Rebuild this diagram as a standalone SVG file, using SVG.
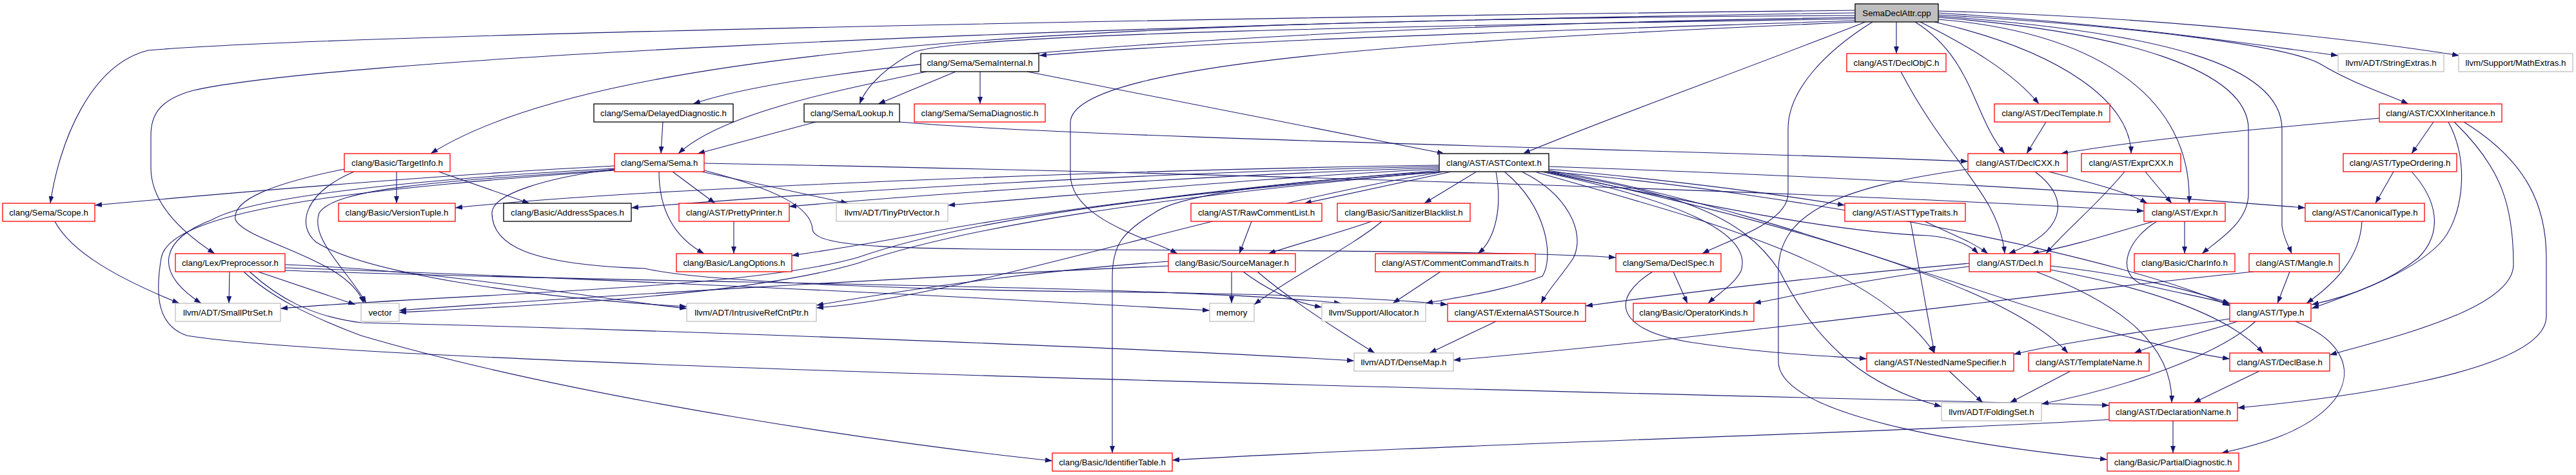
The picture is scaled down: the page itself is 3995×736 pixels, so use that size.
<svg xmlns="http://www.w3.org/2000/svg" width="3995" height="736" viewBox="0 0 3995 736">
<style>
.n rect{fill:#fff;stroke-width:1.3}
.red rect{stroke:#ff0000}
.blk rect{stroke:#000}
.gry rect{stroke:#bfbfbf}
.root rect{fill:#bfbfbf;stroke:#000}
.ctx rect{stroke:#404040;stroke-width:1.8}
text{font-family:"Liberation Sans",Arial,sans-serif;font-size:13.3px;text-anchor:middle;fill:#000}
#edges path{fill:none;stroke:#191970;stroke-width:1.1;marker-end:url(#arr)}
</style>
<defs>
<marker id="arr" markerWidth="11" markerHeight="8" refX="11" refY="4" orient="auto" markerUnits="userSpaceOnUse"><path d="M0,0 L11,4 L0,8 z" fill="#191970"/></marker>
</defs>
<rect width="3995" height="736" fill="#fff"/>
<g id="edges">
<path d="M2877,16 C1800,28 500,55 230,78 C140,100 92,220 78,315"/>
<path d="M2877,20 C1500,40 500,95 300,140 C245,155 234,180 234,210 L234,260 C234,320 290,365 333,393"/>
<path d="M2877,24 C1800,30 950,60 668,238"/>
<path d="M2877,27 C1900,42 1250,100 1075,161"/>
<path d="M2877,29 C2200,40 1500,52 1420,80 C1380,100 1345,130 1333,161"/>
<path d="M2877,32 C2400,48 1900,62 1612,86"/>
<path d="M2893,34 C2700,110 2500,180 2362,238"/>
<path d="M2880,34 C2300,60 1660,90 1660,190 L1660,270 C1660,340 1780,368 1826,393"/>
<path d="M2904,34 C2830,80 2773,140 2773,200 L2773,300 C2773,345 2680,372 2640,393"/>
<path d="M2941,34 L2941,83"/>
<path d="M2970,34 C3060,90 3060,180 3109,238"/>
<path d="M2978,34 C3050,70 3120,110 3162,161"/>
<path d="M3000,34 C3200,80 3305,160 3305,238"/>
<path d="M3006,30 C3250,50 3400,150 3395,315"/>
<path d="M3006,27 C3300,50 3487,110 3487,200 L3487,300 C3487,345 3440,372 3415,393"/>
<path d="M3006,25 C3350,50 3539,100 3539,200 L3539,350 C3542,372 3550,382 3554,393"/>
<path d="M3006,23 C3300,40 3550,70 3600,100 C3650,130 3700,145 3735,161"/>
<path d="M3006,20 C3300,38 3500,70 3626,86"/>
<path d="M3006,17 C3400,28 3700,68 3814,86"/>
<path d="M1482,111 L1362,161"/>
<path d="M1437,111 C1300,140 1120,175 1052,238"/>
<path d="M1520,111 L1520,161"/>
<path d="M1593,111 L2240,238"/>
<path d="M1028,189 L1025,238"/>
<path d="M1265,189 L1082,238"/>
<path d="M1395,189 C1700,215 2600,232 3052,250"/>
<path d="M2948,111 C3020,250 3100,300 3109,393"/>
<path d="M3173,189 L3143,238"/>
<path d="M3690,183 C3500,200 3330,215 3196,238"/>
<path d="M3774,189 L3740,238"/>
<path d="M3797,189 C3830,250 3820,330 3790,370 C3750,420 3650,455 3585,478"/>
<path d="M3806,189 C3880,260 3898,320 3898,410 C3898,480 3700,525 3613,550"/>
<path d="M3821,189 C3920,250 3949,320 3949,400 L3949,490 C3949,580 3600,620 3470,632"/>
<path d="M3327,266 L3368,315"/>
<path d="M3295,266 C3250,320 3200,360 3173,393"/>
<path d="M3177,266 C3250,285 3300,298 3330,315"/>
<path d="M3156,266 C3215,310 3200,360 3115,393"/>
<path d="M3052,262 C2850,290 2758,330 2758,420 L2758,560 C2758,650 3100,695 3268,712"/>
<path d="M615,266 L615,315"/>
<path d="M680,266 L821,315"/>
<path d="M534,262 C420,285 360,310 365,340 C380,375 540,400 564,470"/>
<path d="M549,266 C470,300 460,350 490,375 C560,420 800,460 1065,475"/>
<path d="M953,257 C700,270 400,295 147,318"/>
<path d="M1043,266 L1109,315"/>
<path d="M1022,266 C1022,330 1050,370 1092,393"/>
<path d="M1088,266 L1315,315"/>
<path d="M1092,253 C1600,262 2700,290 3325,327"/>
<path d="M953,264 C600,290 262,320 250,400 C240,460 245,505 290,520 C600,570 2700,612 3271,628"/>
<path d="M953,261 C700,275 400,300 330,340 C250,370 235,420 312,470"/>
<path d="M953,263 C700,280 520,290 495,330 C480,370 540,420 568,470"/>
<path d="M356,421 L355,470"/>
<path d="M400,421 L551,472"/>
<path d="M378,421 C420,460 480,490 560,520 C900,620 1400,690 1632,714"/>
<path d="M387,421 C430,460 480,490 560,500 C1000,510 1800,540 2100,559"/>
<path d="M442,410 C700,420 900,460 1065,478"/>
<path d="M442,415 C900,430 1500,460 1876,481"/>
<path d="M442,419 C1000,440 1800,440 2080,470"/>
<path d="M85,343 C110,390 180,430 278,470"/>
<path d="M1138,343 L1138,393"/>
<path d="M1910,421 L1910,470"/>
<path d="M1812,405 C1600,420 1400,450 1266,473"/>
<path d="M1812,412 C1400,430 900,460 619,481"/>
<path d="M1928,421 C1960,445 2000,468 2050,476"/>
<path d="M1950,421 C1990,455 2040,490 2132,547"/>
<path d="M1941,343 L1922,393"/>
<path d="M2127,343 C2080,360 2020,375 1967,393"/>
<path d="M2143,343 C2100,380 2000,430 1945,472"/>
<path d="M2234,421 L2160,470"/>
<path d="M2595,421 L2617,470"/>
<path d="M2563,421 C2500,460 2500,510 2620,530 C2750,550 2850,552 2895,556"/>
<path d="M3054,413 C2900,430 2800,455 2720,470"/>
<path d="M3054,408 C2800,430 2600,455 2459,474"/>
<path d="M3158,421 C3260,460 3370,520 3368,624"/>
<path d="M3180,418 C3300,440 3450,480 3510,547"/>
<path d="M3180,412 C3300,425 3400,450 3458,470"/>
<path d="M3388,343 L3388,393"/>
<path d="M3340,343 C3280,360 3220,380 3151,393"/>
<path d="M3345,343 C3300,370 3280,420 3320,440 C3380,455 3430,462 3458,472"/>
<path d="M3551,421 L3532,470"/>
<path d="M3495,421 C3200,450 2700,520 2254,558"/>
<path d="M3663,343 C3660,400 3620,440 3577,470"/>
<path d="M3712,266 L3684,315"/>
<path d="M3740,266 C3780,310 3790,360 3750,400 C3700,440 3640,460 3585,472"/>
<path d="M2985,343 C3020,360 3060,375 3083,393"/>
<path d="M2963,343 L3000,547"/>
<path d="M2320,498 L2217,547"/>
<path d="M3023,575 L3075,624"/>
<path d="M3211,575 L3117,624"/>
<path d="M3504,575 L3402,624"/>
<path d="M3370,652 L3370,702"/>
<path d="M3271,650 C3000,668 2200,690 1818,713"/>
<path d="M3560,498 C3640,530 3650,580 3620,620 C3580,670 3500,690 3445,702"/>
<path d="M3498,498 C3440,550 3300,600 3166,626"/>
<path d="M3458,494 C3350,510 3200,530 3123,549"/>
<path d="M3470,498 C3420,515 3350,530 3310,547"/>
<path d="M2232,256 C1800,262 1000,290 706,322"/>
<path d="M2232,258 C1800,266 1300,296 979,322"/>
<path d="M2232,260 C1900,270 1500,296 1224,320"/>
<path d="M2232,262 C2000,272 1700,300 1470,318"/>
<path d="M2232,264 C1900,290 1600,330 1440,360 C1350,378 1280,388 1228,396"/>
<path d="M2240,266 C1800,300 1500,340 1330,399 C1150,450 700,455 435,478"/>
<path d="M2232,266 C1800,305 1500,350 1330,408 C1150,460 800,475 619,484"/>
<path d="M2240,266 C1900,320 1500,460 1266,477"/>
<path d="M2232,266 C2000,280 1830,300 1790,330 C1740,360 1725,380 1725,430 L1725,702"/>
<path d="M2251,266 L2023,315"/>
<path d="M2290,266 L2209,315"/>
<path d="M2320,266 C2330,320 2320,370 2292,393"/>
<path d="M2333,266 C2400,320 2410,400 2392,428 C2330,452 2250,462 2211,470"/>
<path d="M2360,266 C2430,300 2460,360 2440,400 C2420,430 2400,450 2390,470"/>
<path d="M2402,266 C2800,300 3300,400 3458,474"/>
<path d="M2395,266 C2650,320 2850,360 2990,365 C3030,368 3055,380 3068,393"/>
<path d="M2402,262 C2600,280 2750,300 2861,318"/>
<path d="M2402,258 C2900,275 3300,300 3575,322"/>
<path d="M2380,266 C2600,330 2900,400 3000,547"/>
<path d="M2400,266 C2700,330 3100,430 3207,547"/>
<path d="M2402,264 C2800,330 3200,520 3458,556"/>
<path d="M2402,266 C2600,300 2700,330 2760,420 C2820,540 2900,600 3011,630"/>
<path d="M2390,266 C2600,310 2720,360 2700,420 C2690,440 2665,455 2649,470"/>
<path d="M953,262 C850,275 763,300 763,330 C763,380 820,410 1000,416 C1100,440 1500,450 1700,452 C1950,455 2150,462 2245,472"/>
<path d="M1092,264 C1200,292 1258,320 1260,355 C1262,385 1400,386 1700,387 C2100,388 2400,392 2506,399"/>
</g>
<g id="n_SemaDeclAttr" class="n root"><rect x="2877" y="6" width="129" height="28"/><text x="2941.5" y="25">SemaDeclAttr.cpp</text></g>
<g id="n_SemaInternal" class="n blk"><rect x="1428" y="83" width="183" height="28"/><text x="1519.5" y="102">clang/Sema/SemaInternal.h</text></g>
<g id="n_DeclObjC" class="n red"><rect x="2864" y="83" width="154" height="28"/><text x="2941" y="102">clang/AST/DeclObjC.h</text></g>
<g id="n_StringExtras" class="n gry"><rect x="3626" y="83" width="164" height="28"/><text x="3708" y="102">llvm/ADT/StringExtras.h</text></g>
<g id="n_MathExtras" class="n gry"><rect x="3813" y="83" width="177" height="28"/><text x="3901.5" y="102">llvm/Support/MathExtras.h</text></g>
<g id="n_DelayedDiagnostic" class="n blk"><rect x="921" y="161" width="216" height="28"/><text x="1029" y="180">clang/Sema/DelayedDiagnostic.h</text></g>
<g id="n_Lookup" class="n blk"><rect x="1247" y="161" width="148" height="28"/><text x="1321" y="180">clang/Sema/Lookup.h</text></g>
<g id="n_SemaDiagnostic" class="n red"><rect x="1418" y="161" width="203" height="28"/><text x="1519.5" y="180">clang/Sema/SemaDiagnostic.h</text></g>
<g id="n_DeclTemplate" class="n red"><rect x="3093" y="161" width="179" height="28"/><text x="3182.5" y="180">clang/AST/DeclTemplate.h</text></g>
<g id="n_CXXInheritance" class="n red"><rect x="3690" y="161" width="190" height="28"/><text x="3785" y="180">clang/AST/CXXInheritance.h</text></g>
<g id="n_TargetInfo" class="n red"><rect x="534" y="238" width="164" height="28"/><text x="616" y="257">clang/Basic/TargetInfo.h</text></g>
<g id="n_Sema" class="n red"><rect x="953" y="238" width="139" height="28"/><text x="1022.5" y="257">clang/Sema/Sema.h</text></g>
<g id="n_ASTContext" class="n ctx"><rect x="2232" y="238" width="170" height="28"/><text x="2317" y="257">clang/AST/ASTContext.h</text></g>
<g id="n_DeclCXX" class="n red"><rect x="3052" y="238" width="154" height="28"/><text x="3129" y="257">clang/AST/DeclCXX.h</text></g>
<g id="n_ExprCXX" class="n red"><rect x="3228" y="238" width="154" height="28"/><text x="3305" y="257">clang/AST/ExprCXX.h</text></g>
<g id="n_TypeOrdering" class="n red"><rect x="3634" y="238" width="176" height="28"/><text x="3722" y="257">clang/AST/TypeOrdering.h</text></g>
<g id="n_Scope" class="n red"><rect x="4" y="315" width="143" height="28"/><text x="75.5" y="334">clang/Sema/Scope.h</text></g>
<g id="n_VersionTuple" class="n red"><rect x="525" y="315" width="181" height="28"/><text x="615.5" y="334">clang/Basic/VersionTuple.h</text></g>
<g id="n_AddressSpaces" class="n blk"><rect x="781" y="315" width="198" height="28"/><text x="880" y="334">clang/Basic/AddressSpaces.h</text></g>
<g id="n_PrettyPrinter" class="n red"><rect x="1053" y="315" width="171" height="28"/><text x="1138.5" y="334">clang/AST/PrettyPrinter.h</text></g>
<g id="n_TinyPtrVector" class="n gry"><rect x="1297" y="315" width="173" height="28"/><text x="1383.5" y="334">llvm/ADT/TinyPtrVector.h</text></g>
<g id="n_RawCommentList" class="n red"><rect x="1847" y="315" width="203" height="28"/><text x="1948.5" y="334">clang/AST/RawCommentList.h</text></g>
<g id="n_SanitizerBlacklist" class="n red"><rect x="2074" y="315" width="206" height="28"/><text x="2177" y="334">clang/Basic/SanitizerBlacklist.h</text></g>
<g id="n_ASTTypeTraits" class="n red"><rect x="2861" y="315" width="187" height="28"/><text x="2954.5" y="334">clang/AST/ASTTypeTraits.h</text></g>
<g id="n_Expr" class="n red"><rect x="3325" y="315" width="126" height="28"/><text x="3388" y="334">clang/AST/Expr.h</text></g>
<g id="n_CanonicalType" class="n red"><rect x="3575" y="315" width="185" height="28"/><text x="3667.5" y="334">clang/AST/CanonicalType.h</text></g>
<g id="n_Preprocessor" class="n red"><rect x="272" y="393" width="170" height="28"/><text x="357" y="412">clang/Lex/Preprocessor.h</text></g>
<g id="n_LangOptions" class="n red"><rect x="1049" y="393" width="179" height="28"/><text x="1138.5" y="412">clang/Basic/LangOptions.h</text></g>
<g id="n_SourceManager" class="n red"><rect x="1812" y="393" width="197" height="28"/><text x="1910.5" y="412">clang/Basic/SourceManager.h</text></g>
<g id="n_CommentCommandTraits" class="n red"><rect x="2133" y="393" width="248" height="28"/><text x="2257" y="412">clang/AST/CommentCommandTraits.h</text></g>
<g id="n_DeclSpec" class="n red"><rect x="2506" y="393" width="163" height="28"/><text x="2587.5" y="412">clang/Sema/DeclSpec.h</text></g>
<g id="n_Decl" class="n red"><rect x="3054" y="393" width="126" height="28"/><text x="3117" y="412">clang/AST/Decl.h</text></g>
<g id="n_CharInfo" class="n red"><rect x="3310" y="393" width="156" height="28"/><text x="3388" y="412">clang/Basic/CharInfo.h</text></g>
<g id="n_Mangle" class="n red"><rect x="3488" y="393" width="140" height="28"/><text x="3558" y="412">clang/AST/Mangle.h</text></g>
<g id="n_SmallPtrSet" class="n gry"><rect x="272" y="470" width="163" height="28"/><text x="353.5" y="489">llvm/ADT/SmallPtrSet.h</text></g>
<g id="n_vector" class="n gry"><rect x="560" y="470" width="59" height="28"/><text x="589.5" y="489">vector</text></g>
<g id="n_IntrusiveRefCntPtr" class="n gry"><rect x="1065" y="470" width="201" height="28"/><text x="1165.5" y="489">llvm/ADT/IntrusiveRefCntPtr.h</text></g>
<g id="n_memory" class="n gry"><rect x="1876" y="470" width="69" height="28"/><text x="1910.5" y="489">memory</text></g>
<g id="n_Allocator" class="n gry"><rect x="2050" y="470" width="161" height="28"/><text x="2130.5" y="489">llvm/Support/Allocator.h</text></g>
<g id="n_ExternalASTSource" class="n red"><rect x="2245" y="470" width="214" height="28"/><text x="2352" y="489">clang/AST/ExternalASTSource.h</text></g>
<g id="n_OperatorKinds" class="n red"><rect x="2533" y="470" width="187" height="28"/><text x="2626.5" y="489">clang/Basic/OperatorKinds.h</text></g>
<g id="n_Type" class="n red"><rect x="3458" y="470" width="126" height="28"/><text x="3521" y="489">clang/AST/Type.h</text></g>
<g id="n_DenseMap" class="n gry"><rect x="2100" y="547" width="154" height="28"/><text x="2177" y="566">llvm/ADT/DenseMap.h</text></g>
<g id="n_NestedNameSpecifier" class="n red"><rect x="2895" y="547" width="228" height="28"/><text x="3009" y="566">clang/AST/NestedNameSpecifier.h</text></g>
<g id="n_TemplateName" class="n red"><rect x="3146" y="547" width="187" height="28"/><text x="3239.5" y="566">clang/AST/TemplateName.h</text></g>
<g id="n_DeclBase" class="n red"><rect x="3458" y="547" width="155" height="28"/><text x="3535.5" y="566">clang/AST/DeclBase.h</text></g>
<g id="n_FoldingSet" class="n gry"><rect x="3011" y="624" width="155" height="28"/><text x="3088.5" y="643">llvm/ADT/FoldingSet.h</text></g>
<g id="n_DeclarationName" class="n red"><rect x="3271" y="624" width="199" height="28"/><text x="3370.5" y="643">clang/AST/DeclarationName.h</text></g>
<g id="n_IdentifierTable" class="n red"><rect x="1632" y="702" width="186" height="28"/><text x="1725" y="721">clang/Basic/IdentifierTable.h</text></g>
<g id="n_PartialDiagnostic" class="n red"><rect x="3268" y="702" width="204" height="28"/><text x="3370" y="721">clang/Basic/PartialDiagnostic.h</text></g>
</svg>
